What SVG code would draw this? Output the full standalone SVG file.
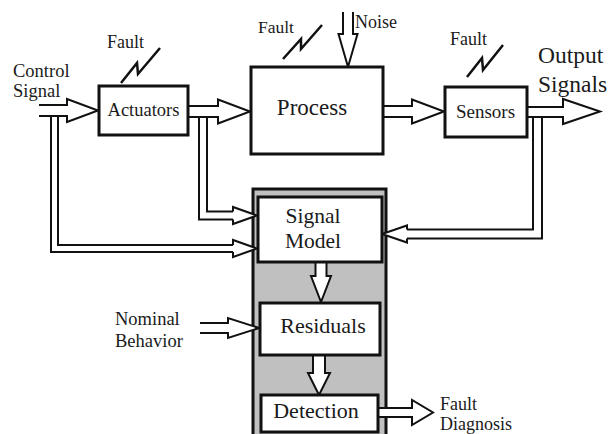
<svg xmlns="http://www.w3.org/2000/svg" width="612" height="434" viewBox="0 0 612 434" font-family="'Liberation Serif', 'DejaVu Serif', serif">
<style>
text{font-family:'Liberation Serif','DejaVu Serif',serif;fill:#1a1a1a}
.box{fill:#fff;stroke:#111;stroke-width:3}
.grp{fill:#c0c0c0;stroke:#111;stroke-width:3}
.arr{fill:#fff;stroke:#111;stroke-width:2;stroke-linejoin:miter}
.fault{fill:none;stroke:#111;stroke-width:2.5;stroke-linejoin:miter}
.dblo{fill:none;stroke:#111;stroke-linejoin:miter}
.dbli{fill:none;stroke:#fff;stroke-linejoin:miter}
.lbl{font-size:18.5px}
.blk{font-size:21.5px;text-anchor:middle}
</style>
<rect width="612" height="434" fill="#fff"/>
<g id="diagnosis-unit">
<rect class="grp" x="253" y="189" width="133" height="262"/>
</g>
<g id="connectors">
<path class="dblo" stroke-width="9" d="M54.5,116 V248.5 H233"/>
<path class="dbli" stroke-width="5" d="M54.5,115 V248.5 H234"/>
<polyline class="arr" points="233,245 233,240 257,248.5 233,257 233,252"/>
<path class="dblo" stroke-width="10" d="M203,116 V215.5 H233"/>
<path class="dbli" stroke-width="6" d="M203,115 V215.5 H234"/>
<polyline class="arr" points="233,211.5 233,207 257,215.5 233,224 233,219.5"/>
<path class="dblo" stroke-width="11" d="M537.5,117 V234 H407"/>
<path class="dbli" stroke-width="7" d="M537.5,116 V234 H406"/>
<polyline class="arr" points="407,229.5 407,225.5 382,234 407,242.5 407,238.5"/>
<path class="arr" d="M39,105 H67 V99 L98,110.5 L67,122 V116 H39"/>
<path class="arr" d="M188,106 H218 V99.5 L250,111.5 L218,123.5 V117 H188"/>
<path class="arr" d="M383,106 H412 V99.5 L444,111.5 L412,123.5 V117 H383"/>
<path class="arr" d="M527,107 H563 V99 L600,111.5 L563,124 V117 H527"/>
<path class="arr" d="M343,12 V34 H338.5 L348,67 L357.5,34 H353 V12"/>
<path class="arr" d="M315.5,262 V276 H311 L321,302 L331,276 H326.5 V262"/>
<path class="arr" d="M313,355 V373 H308 L319,395 L330,373 H325 V355"/>
<path class="arr" d="M378,408 H412 V400 L433,412.5 L412,425 V417 H378"/>
<path class="arr" d="M200,323 H228 V318 L259,328 L228,338 V333 H200"/>
<polyline class="fault" points="121,83 137,63 138,74 160,48"/>
<polyline class="fault" points="283,59 301,39 301,49 322,25"/>
<polyline class="fault" points="467,77 482,58 483,70 503,45"/>
</g>
<g id="actuators">
<rect class="box" x="99" y="86" width="89" height="49"/>
<text x="143.5" y="116" font-size="18.5" text-anchor="middle">Actuators</text>
</g>
<g id="process">
<rect class="box" x="251" y="67" width="132" height="87"/>
<text x="312" y="115" font-size="23" text-anchor="middle">Process</text>
</g>
<g id="sensors">
<rect class="box" x="445" y="87" width="82" height="50"/>
<text x="485.5" y="118" font-size="19" text-anchor="middle">Sensors</text>
</g>
<g id="signal-model">
<rect class="box" x="258" y="197" width="124" height="65"/>
<text class="blk" x="313" y="223">Signal</text>
<text class="blk" x="313" y="248">Model</text>
</g>
<g id="residuals">
<rect class="box" x="260" y="303" width="120" height="52"/>
<text x="323" y="333" font-size="22" text-anchor="middle">Residuals</text>
</g>
<g id="detection">
<rect class="box" x="261" y="395" width="117" height="37"/>
<text x="316" y="418" font-size="22" text-anchor="middle">Detection</text>
</g>
<g id="labels">
<text class="lbl" x="13" y="77">Control</text>
<text class="lbl" x="13" y="97">Signal</text>
<text x="107" y="48" font-size="18">Fault</text>
<text x="258" y="33" font-size="17.5">Fault</text>
<text x="355" y="28" font-size="18">Noise</text>
<text x="450" y="45" font-size="18">Fault</text>
<text x="538" y="63" font-size="23.5">Output</text>
<text x="538" y="92" font-size="23.5">Signals</text>
<text class="lbl" x="115" y="325">Nominal</text>
<text class="lbl" x="115" y="347">Behavior</text>
<text x="440" y="410" font-size="18">Fault</text>
<text x="440" y="430" font-size="18">Diagnosis</text>
</g>
</svg>
